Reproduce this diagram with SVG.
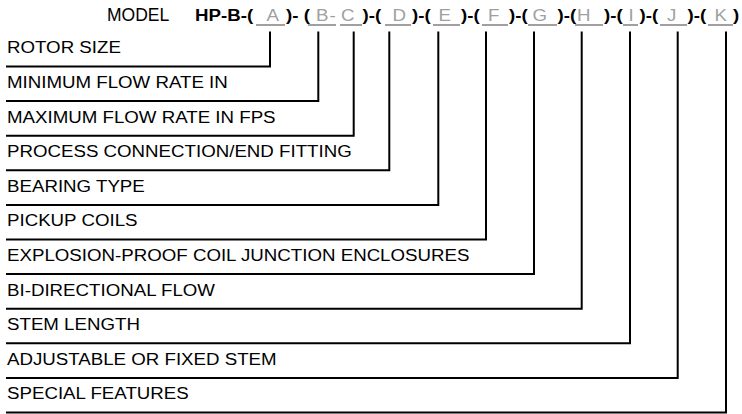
<svg xmlns="http://www.w3.org/2000/svg" width="742" height="414" viewBox="0 0 742 414">
<style>
  text { font-family: "Liberation Sans", Arial, sans-serif; }
  .hd { font-size: 17px; fill: #000; }
  .b { font-weight: bold; }
  .g { fill: #a0a0a0; }
  .lbl { font-size: 17px; fill: #000; }
  .ul { stroke: #a0a0a0; stroke-width: 2; fill: none; }
  .cn { stroke: #000; stroke-width: 2; fill: none; stroke-linejoin: miter; }
</style>
<rect width="742" height="414" fill="#fff"/>
<g id="header">
  <text class="hd" x="107" y="21" style="font-size:17.5px">MODEL</text>
  <text class="hd b" transform="translate(195 21) scale(1.1 1)">HP-B-(</text>
  <text class="hd g" transform="translate(266.5 21) scale(1.1 1)">A</text>
  <text class="hd b" transform="translate(286 21) scale(1.1 1)">)- (</text>
  <text class="hd g" transform="translate(316 21) scale(1.1 1)">B</text>
  <text class="hd g" transform="translate(329.5 21) scale(1.1 1)">-</text>
  <text class="hd g" transform="translate(341 21) scale(1.1 1)">C</text>
  <text class="hd b" transform="translate(362.5 21) scale(1.1 1)">)-(</text>
  <text class="hd g" transform="translate(392.5 21) scale(1.1 1)">D</text>
  <text class="hd b" transform="translate(412 21) scale(1.1 1)">)-(</text>
  <text class="hd g" transform="translate(438.5 21) scale(1.1 1)">E</text>
  <text class="hd b" transform="translate(461 21) scale(1.1 1)">)-(</text>
  <text class="hd g" transform="translate(488 21) scale(1.1 1)">F</text>
  <text class="hd b" transform="translate(509 21) scale(1.1 1)">)-(</text>
  <text class="hd g" transform="translate(532.5 21) scale(1.1 1)">G</text>
  <text class="hd b" transform="translate(557.5 21) scale(1.1 1)">)-(</text>
  <text class="hd g" transform="translate(577 21) scale(1.1 1)">H</text>
  <text class="hd b" transform="translate(604 21) scale(1.1 1)">)-(</text>
  <text class="hd g" transform="translate(628.5 21) scale(1.1 1)">I</text>
  <text class="hd b" transform="translate(639.5 21) scale(1.1 1)">)-(</text>
  <text class="hd g" transform="translate(667 21) scale(1.1 1)">J</text>
  <text class="hd b" transform="translate(687.5 21) scale(1.1 1)">)-(</text>
  <text class="hd g" transform="translate(714.5 21) scale(1.1 1)">K</text>
  <text class="hd b" transform="translate(733 21) scale(1.1 1)">)</text>
  <path class="ul" d="M256 25H285M308 25H336M340 25H362M385 25H411M433 25H460M482 25H508M528 25H557M575 25H603M623 25H638M660 25H687M708 25H733"/>
</g>
<g id="connectors">
  <path class="cn" d="M270 31.5V66.5H6"/>
  <path class="cn" d="M318.3 31.5V101.1H6"/>
  <path class="cn" d="M353.7 31.5V135.7H6"/>
  <path class="cn" d="M389.3 31.5V170.3H6"/>
  <path class="cn" d="M438.3 31.5V204.9H6"/>
  <path class="cn" d="M486 31.5V239.5H6"/>
  <path class="cn" d="M534 31.5V274.1H6"/>
  <path class="cn" d="M581.7 31.5V308.7H6"/>
  <path class="cn" d="M630 31.5V343.3H6"/>
  <path class="cn" d="M677.7 31.5V377.9H6"/>
  <path class="cn" d="M726 31.5V412.5H6"/>
</g>
<g id="rotor-size" transform="translate(7 53.3) scale(1.1 1)"><text class="lbl">ROTOR SIZE</text></g>
<g id="min-flow" transform="translate(7 87.9) scale(1.1 1)"><text class="lbl">MINIMUM FLOW RATE IN</text></g>
<g id="max-flow" transform="translate(7 122.5) scale(1.1 1)"><text class="lbl">MAXIMUM FLOW RATE IN FPS</text></g>
<g id="process-connection" transform="translate(7 157.1) scale(1.1 1)"><text class="lbl">PROCESS CONNECTION/END FITTING</text></g>
<g id="bearing-type" transform="translate(7 191.7) scale(1.1 1)"><text class="lbl">BEARING TYPE</text></g>
<g id="pickup-coils" transform="translate(7 226.3) scale(1.1 1)"><text class="lbl">PICKUP COILS</text></g>
<g id="explosion-proof" transform="translate(7 260.9) scale(1.1 1)"><text class="lbl">EXPLOSION-PROOF COIL JUNCTION ENCLOSURES</text></g>
<g id="bi-directional" transform="translate(7 295.5) scale(1.1 1)"><text class="lbl">BI-DIRECTIONAL FLOW</text></g>
<g id="stem-length" transform="translate(7 330.1) scale(1.1 1)"><text class="lbl">STEM LENGTH</text></g>
<g id="adjustable-stem" transform="translate(7 364.7) scale(1.1 1)"><text class="lbl">ADJUSTABLE OR FIXED STEM</text></g>
<g id="special-features" transform="translate(7 399.3) scale(1.1 1)"><text class="lbl">SPECIAL FEATURES</text></g>
</svg>
